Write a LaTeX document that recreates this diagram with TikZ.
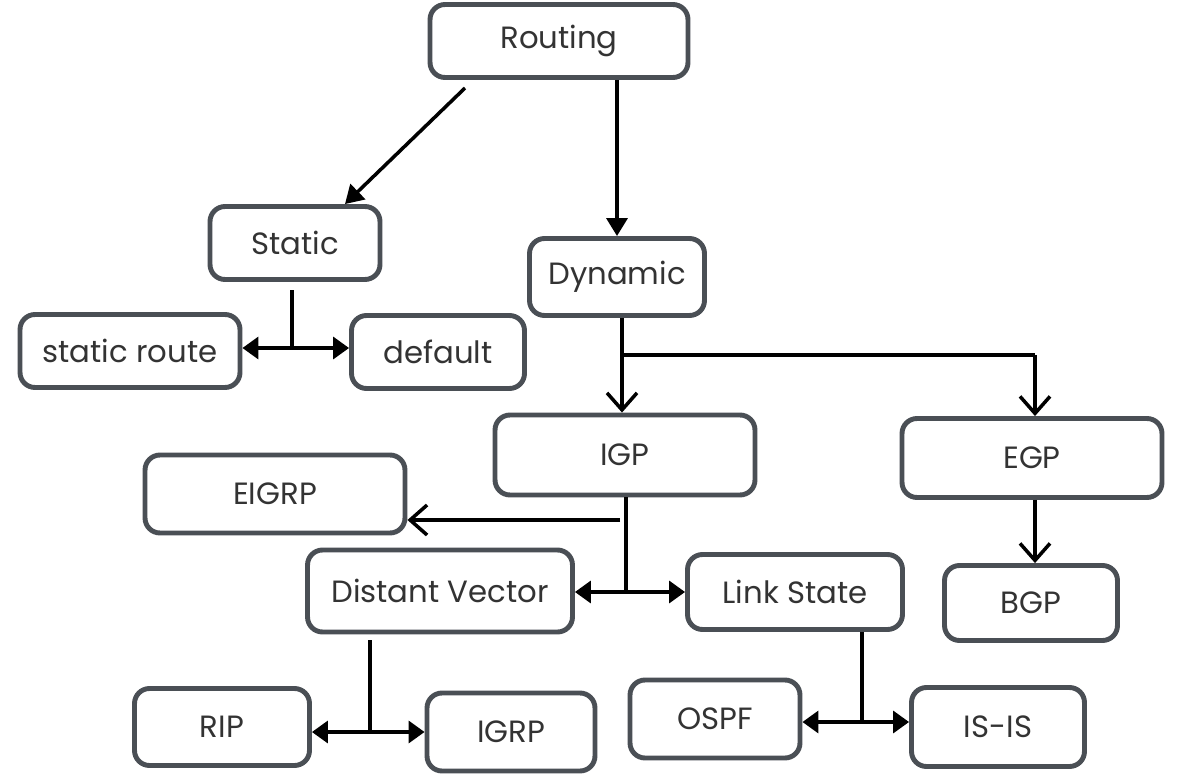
\documentclass[tikz,border=0pt]{standalone}
\usepackage{fontspec}
\setmainfont{Poppins}
\usetikzlibrary{arrows.meta}
\definecolor{boxline}{HTML}{4A4F55}
\definecolor{txt}{HTML}{333333}
\tikzset{
  box/.style={draw=boxline, line width=2.8pt, rounded corners=0.3cm, fill=white,
    font=\fontsize{17.5}{20}\selectfont, text=txt, inner sep=0pt},
  conn/.style={line width=2pt, black},
  fillarrow/.style={conn, -{Triangle[length=0.36cm,width=0.42cm]}},
  duoarrow/.style={conn, {Triangle[length=0.32cm,width=0.44cm]}-{Triangle[length=0.32cm,width=0.44cm]}},
  barbarrow/.style={conn, -{Straight Barb[length=0.34cm,width=0.6cm,line width=2pt]}}
}
\begin{document}
\begin{tikzpicture}[x=0.02cm,y=-0.02cm]
\useasboundingbox[fill=white] (0,0) rectangle (1180,774);
% nodes
\node[box, minimum width=5.16cm, minimum height=1.46cm] (routing) at (559,41) {Routing};
\node[box, minimum width=3.4cm,  minimum height=1.46cm] (static)  at (295,243) {Static};
\node[box, minimum width=3.5cm,  minimum height=1.54cm] (dynamic) at (617,277) {Dynamic};
\node[box, minimum width=4.4cm,  minimum height=1.46cm] (sroute)  at (130,351) {static route};
\node[box, minimum width=3.46cm, minimum height=1.46cm] (default) at (438,352) {default};
\node[box, minimum width=5.2cm,  minimum height=1.6cm]  (igp)     at (625,455) {IGP};
\node[box, minimum width=5.2cm,  minimum height=1.58cm] (egp)     at (1032,458) {EGP};
\node[box, minimum width=5.2cm,  minimum height=1.56cm] (eigrp)   at (275,494) {EIGRP};
\node[box, minimum width=5.3cm,  minimum height=1.64cm] (dv)      at (440,591) {Distant Vector};
\node[box, minimum width=4.3cm,  minimum height=1.5cm]  (ls)      at (795,592) {Link State};
\node[box, minimum width=3.46cm, minimum height=1.5cm]  (bgp)     at (1031,603) {BGP};
\node[box, minimum width=3.5cm,  minimum height=1.54cm] (rip)     at (222,727) {RIP};
\node[box, minimum width=3.36cm, minimum height=1.56cm] (igrp)    at (511,732) {IGRP};
\node[box, minimum width=3.4cm,  minimum height=1.56cm] (ospf)    at (715,719) {OSPF};
\node[box, minimum width=3.46cm, minimum height=1.58cm] (isis)    at (998,727) {IS-IS};
% connector coordinates
\coordinate (r1) at (465,88);
\coordinate (s0) at (292,290);
\coordinate (sj) at (292,348);
\coordinate (dj) at (622,355);
\coordinate (ej) at (1035,355);
\coordinate (ij) at (626,592);
\coordinate (ie) at (620,520);
\coordinate (d0) at (370,640);
\coordinate (dvj) at (370,732);
\coordinate (lsj) at (862,722);
% connectors
\draw[fillarrow] (r1) -- ([xshift=1cm]static.north);
\draw[fillarrow] (routing.south -| dynamic.north) -- (dynamic.north);
\draw[conn] (s0) -- (sj);
\draw[duoarrow] (sroute.east |- sj) -- (default.west |- sj);
\draw[conn] (dynamic.south -| dj) -- (dj) -- (ej);
\draw[barbarrow] (dj) -- (igp.north -| dj);
\draw[barbarrow] (ej) -- (egp.north -| ej);
\draw[conn] (igp.south -| ij) -- (ij);
\draw[barbarrow] (ie) -- (eigrp.east |- ie);
\draw[duoarrow] (dv.east |- ij) -- (ls.west |- ij);
\draw[barbarrow] (egp.south -| ej) -- (bgp.north -| ej);
\draw[conn] (d0) -- (dvj);
\draw[duoarrow] (rip.east |- dvj) -- (igrp.west |- dvj);
\draw[conn] (ls.south -| lsj) -- (lsj);
\draw[duoarrow] (ospf.east |- lsj) -- (isis.west |- lsj);
\end{tikzpicture}
\end{document}
